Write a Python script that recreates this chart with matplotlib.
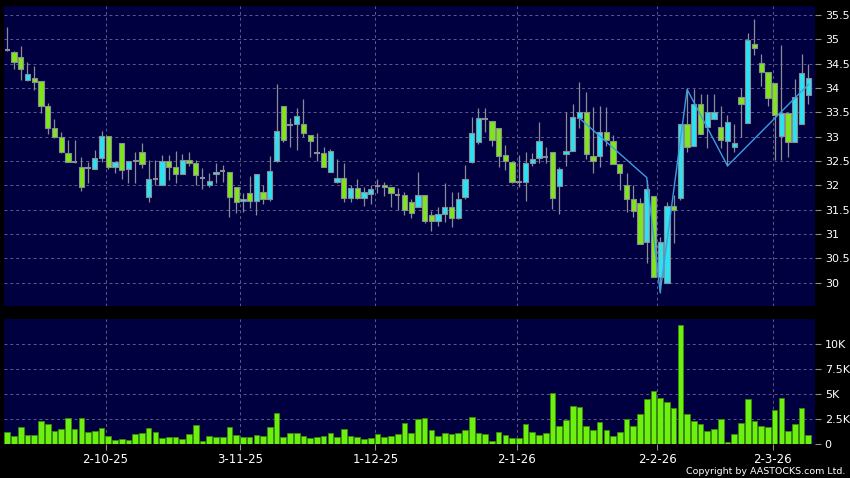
import numpy as np
import matplotlib
matplotlib.use('Agg')
import matplotlib.pyplot as plt

# Datos diarios (precio, volumen en miles)
opens = [34.78, 34.73, 34.64, 34.17, 34.20, 34.14, 33.62, 33.17, 33.00, 32.67,
         32.48, 32.38, 32.35, 32.33, 32.57, 33.02, 32.37, 32.86, 32.34, 32.53,
         32.68, 31.75, 32.13, 32.01, 32.50, 32.38, 32.23, 32.52, 32.45, 32.16,
         32.00, 32.23, 32.30, 32.28, 31.96, 31.68, 31.85, 31.68, 31.87, 31.71,
         32.50, 33.62, 33.23, 33.26, 33.27, 33.04, 32.67, 32.66, 32.27, 32.06,
         32.16, 31.73, 31.94, 31.73, 31.83, 31.99, 32.00, 31.96, 31.80, 31.80,
         31.65, 31.56, 31.81, 31.39, 31.27, 31.42, 31.56, 31.32, 31.75, 32.47,
         32.88, 33.37, 33.33, 33.17, 32.62, 32.48, 32.06, 32.06, 32.45, 32.57,
         32.59, 32.68, 31.99, 32.64, 32.71, 33.38, 33.50, 32.60, 32.61, 33.10,
         32.92, 32.43, 32.00, 31.71, 31.63, 30.84, 31.78, 30.11, 30.00, 31.57,
         31.73, 33.25, 32.81, 33.68, 33.20, 33.36, 33.20, 32.91, 32.78, 33.81,
         33.29, 34.90, 34.51, 34.32, 34.10, 33.01, 33.49, 32.88, 33.25, 33.86]
highs = [35.25, 34.75, 34.86, 34.54, 34.45, 34.14, 33.70, 33.36, 33.10, 32.93,
         32.94, 32.59, 32.48, 32.72, 33.12, 33.02, 32.47, 32.86, 32.50, 32.68,
         32.86, 32.52, 32.52, 32.62, 32.62, 32.70, 32.64, 32.68, 32.53, 32.35,
         32.25, 32.45, 32.42, 32.28, 31.96, 31.85, 32.19, 32.23, 32.00, 32.60,
         34.08, 33.62, 33.38, 33.58, 33.77, 33.04, 33.07, 32.79, 32.74, 32.55,
         32.45, 32.00, 32.14, 31.97, 32.00, 32.14, 32.07, 31.96, 31.94, 31.87,
         31.72, 32.27, 31.81, 31.48, 31.56, 32.05, 31.87, 31.87, 32.42, 33.41,
         33.58, 33.58, 33.33, 33.17, 32.83, 32.48, 32.62, 32.69, 32.67, 33.31,
         32.79, 32.68, 32.38, 33.51, 33.68, 34.13, 33.92, 33.61, 33.63, 33.61,
         33.03, 32.43, 32.25, 32.00, 31.73, 32.11, 31.78, 30.93, 31.66, 31.80,
         33.27, 33.99, 33.97, 33.88, 33.87, 33.88, 33.63, 33.44, 33.25, 34.01,
         35.12, 35.41, 34.70, 34.32, 34.10, 34.88, 33.49, 34.18, 34.70, 34.49]
lows = [34.75, 34.40, 34.16, 34.15, 33.96, 33.49, 33.05, 32.97, 32.66, 32.48,
        32.45, 31.89, 32.05, 32.33, 32.48, 32.33, 32.25, 32.13, 32.05, 32.05,
        32.35, 31.66, 32.00, 32.01, 32.11, 32.05, 32.23, 32.40, 32.00, 31.92,
        31.97, 32.04, 32.07, 31.35, 31.44, 31.46, 31.53, 31.40, 31.61, 31.68,
        32.48, 32.88, 32.79, 32.72, 32.99, 32.58, 32.50, 32.37, 32.27, 32.05,
        31.66, 31.66, 31.72, 31.58, 31.62, 31.85, 31.78, 31.56, 31.49, 31.39,
        31.32, 31.56, 31.23, 31.06, 31.17, 31.24, 31.15, 31.30, 31.72, 32.46,
        32.84, 33.10, 32.81, 32.38, 32.31, 32.04, 31.97, 31.68, 32.40, 32.45,
        32.45, 31.51, 31.42, 32.40, 32.71, 33.17, 32.55, 32.26, 32.38, 32.80,
        32.43, 31.90, 31.46, 31.35, 30.80, 30.41, 30.11, 29.79, 30.00, 30.81,
        31.70, 32.69, 32.81, 33.05, 32.76, 33.36, 32.76, 32.40, 32.69, 33.00,
        33.29, 34.68, 34.04, 33.63, 32.52, 32.52, 32.59, 32.88, 33.25, 33.68]
closes = [34.78, 34.53, 34.40, 34.28, 34.13, 33.62, 33.17, 33.00, 32.68, 32.48,
          32.48, 31.97, 32.35, 32.57, 33.02, 32.37, 32.47, 32.31, 32.50, 32.49,
          32.44, 32.12, 32.13, 32.50, 32.38, 32.23, 32.52, 32.45, 32.21, 32.16,
          32.09, 32.28, 32.30, 31.77, 31.66, 31.72, 31.68, 32.23, 31.71, 32.30,
          33.12, 32.93, 33.23, 33.43, 33.07, 32.92, 32.67, 32.37, 32.71, 32.16,
          31.73, 31.94, 31.73, 31.87, 31.92, 31.99, 31.96, 31.85, 31.80, 31.49,
          31.44, 31.81, 31.27, 31.27, 31.42, 31.56, 31.32, 31.71, 32.12, 33.07,
          33.38, 33.37, 32.93, 32.60, 32.49, 32.06, 32.06, 32.45, 32.55, 32.92,
          32.59, 31.73, 32.33, 32.71, 33.40, 33.50, 32.64, 32.50, 33.10, 32.93,
          32.44, 32.25, 31.71, 31.48, 30.80, 31.92, 30.11, 30.84, 31.57, 31.50,
          33.25, 32.79, 33.68, 33.05, 33.51, 33.50, 32.94, 33.31, 32.86, 33.68,
          34.99, 34.82, 34.32, 33.79, 33.44, 33.49, 32.88, 33.81, 34.31, 34.21]
volumes_k = [1.14, 0.77, 1.65, 0.81, 0.84, 2.29, 1.92, 1.28, 1.45, 2.53,
             1.48, 2.53, 1.18, 1.25, 1.55, 0.71, 0.34, 0.44, 0.40, 0.98,
             1.04, 1.52, 1.18, 0.51, 0.67, 0.67, 0.44, 0.94, 1.89, 0.30,
             0.74, 0.64, 0.64, 1.68, 0.84, 0.64, 0.64, 0.84, 0.74, 1.62,
             3.03, 0.61, 1.01, 1.04, 0.77, 0.54, 0.61, 0.77, 1.04, 0.67,
             1.45, 0.77, 0.67, 0.44, 0.54, 0.94, 0.67, 0.74, 0.98, 2.05,
             1.04, 2.46, 2.53, 1.41, 0.74, 1.01, 0.94, 1.08, 1.41, 2.66,
             1.04, 0.98, 0.30, 1.14, 0.81, 0.54, 0.51, 1.95, 1.11, 0.81,
             1.04, 5.08, 1.72, 2.36, 3.74, 3.64, 1.75, 1.35, 2.19, 1.41,
             0.77, 1.14, 2.49, 1.75, 2.96, 4.51, 5.25, 4.58, 4.18, 3.57,
             11.95, 2.93, 2.26, 1.99, 1.31, 1.45, 2.46, 0.20, 0.91, 2.09,
             4.51, 2.29, 1.78, 1.62, 3.33, 4.55, 1.28, 1.99, 3.57, 0.88]

# Zigzag (puntos de giro)
zz_idx = [85, 95, 97, 101, 107, 119]
zz_val = [33.38, 32.16, 29.80, 33.97, 32.40, 34.07]

date_pos = [14.6, 34.6, 54.7, 75.7, 96.6, 113.7]
date_labels = ['2-10-25', '3-11-25', '1-12-25', '2-1-26', '2-2-26', '2-3-26']
price_ticks = [30, 30.5, 31, 31.5, 32, 32.5, 33, 33.5, 34, 34.5, 35, 35.5]
price_labels = ['30', '30.5', '31', '31.5', '32', '32.5', '33', '33.5', '34', '34.5', '35', '35.5']
vol_ticks = [0, 2.5, 5, 7.5, 10]
vol_labels = ['0', '2.5K', '5K', '7.5K', '10K']

FONDO = '#000040'
VERDE = '#7fe61a'
CIAN = '#2ae2f2'
GRIS = '#8c8c96'
REJILLA = '#5c5c8c'

o = np.array(opens); h = np.array(highs); l = np.array(lows); c = np.array(closes)
x = np.arange(len(o))

W, H = 850, 478
fig = plt.figure(figsize=(W / 100, H / 100), dpi=100, facecolor='black')
ax1 = fig.add_axes([4 / W, 1 - 306 / H, 811 / W, 300 / H])
ax2 = fig.add_axes([4 / W, 1 - 443.5 / H, 811 / W, 124.5 / H])

for ax in (ax1, ax2):
    ax.set_facecolor(FONDO)
    for s in ax.spines.values():
        s.set_visible(False)
    ax.set_xlim(-0.49, 120.0)
    ax.set_xticks(date_pos)
    ax.grid(True, color=REJILLA, linestyle=(0, (3, 3)), linewidth=0.7)
    ax.set_axisbelow(True)
    ax.yaxis.tick_right()
    ax.tick_params(axis='y', length=4, width=0.8, color=GRIS, pad=3,
                   labelcolor='white', labelsize=8)

# Velas
ax1.vlines(x, l, h, color=GRIS, linewidth=0.9, zorder=2)
sube = c > o
baja = c < o
doji = c == o
ax1.bar(x[sube], (c - o)[sube], bottom=o[sube], width=0.78, color=CIAN,
        edgecolor=GRIS, linewidth=0.8, zorder=3)
ax1.bar(x[baja], (o - c)[baja], bottom=c[baja], width=0.78, color=VERDE,
        edgecolor=GRIS, linewidth=0.8, zorder=3)
ax1.hlines(o[doji], x[doji] - 0.4, x[doji] + 0.4, color=GRIS, linewidth=1.5, zorder=3)
ax1.plot(zz_idx, zz_val, color='#3a9ee0', linewidth=1.0, zorder=4)

ax1.set_ylim(29.52, 35.685)
ax1.set_yticks(price_ticks)
ax1.set_yticklabels(price_labels)
ax1.tick_params(axis='x', length=0, labelbottom=False)

# Volumen
ax2.bar(x, volumes_k, width=0.84, color='#6cf010', edgecolor='#3a8a08', linewidth=0.6, zorder=3)
ax2.set_ylim(0, 12.55)
ax2.set_yticks(vol_ticks)
ax2.set_yticklabels(vol_labels)
ax2.set_xticklabels(date_labels)
ax2.tick_params(axis='x', length=4, width=0.8, color=GRIS, pad=3,
                labelcolor='white', labelsize=8.5)

fig.text(845 / W, 1 - 471 / H, 'Copyright by AASTOCKS.com Ltd.', ha='right', va='center',
         color='white', fontsize=6.8)

fig.savefig('out.png', dpi=100, facecolor='black')
